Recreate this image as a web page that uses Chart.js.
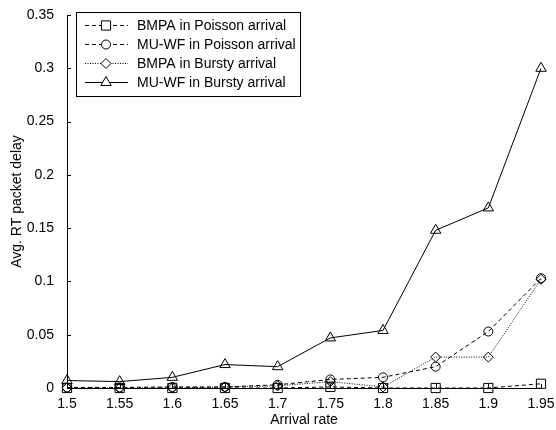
<!DOCTYPE html>
<html lang="en">
<head>
    <meta charset="utf-8" />
    <title>Avg. RT packet delay vs arrival rate</title>
    <script src="https://cdn.jsdelivr.net/npm/chart.js"></script>
    <style>
        html, body { margin: 0; padding: 0; background: #fff; }
        #wrap { width: 556px; height: 430px; position: relative; }
    </style>
</head>
<body>
    <div id="wrap"><canvas id="delayChart"></canvas></div>

    <script>
        // values
        const arrivalRates = [1.5, 1.55, 1.6, 1.65, 1.7, 1.75, 1.8, 1.85, 1.9, 1.95];
        const bmpaPoisson  = [0, 0, 0, 0, 0, 0.001, 0, 0, 0, 0.004];
        const muwfPoisson  = [0.0005, 0.0005, 0.001, 0.001, 0.003, 0.008, 0.010, 0.020, 0.053, 0.103];
        const bmpaBursty   = [0, 0, 0, 0.001, 0.002, 0.006, 0.001, 0.029, 0.029, 0.102];
        const muwfBursty   = [0.007, 0.006, 0.010, 0.022, 0.020, 0.047, 0.054, 0.148, 0.169, 0.300];
        const yTicks = [0, 0.05, 0.1, 0.15, 0.2, 0.25, 0.3, 0.35];

        const FONT = '"Liberation Sans", Arial, sans-serif';

        function series(label, values, style, radius, dash) {
            return {
                label: label,
                data: arrivalRates.map((x, i) => ({ x: x, y: values[i] })),
                borderColor: '#000',
                backgroundColor: 'rgba(0,0,0,0)',
                borderWidth: 1,
                borderDash: dash,
                pointStyle: style,
                pointRadius: radius,
                pointBorderColor: '#000',
                pointBackgroundColor: 'rgba(0,0,0,0)',
                pointBorderWidth: 1,
                tension: 0,
                clip: false
            };
        }

        const datasets = [
            series('BMPA in Poisson arrival', bmpaPoisson, 'rect', 6.5, [4, 3]),
            series('MU-WF in Poisson arrival', muwfPoisson, 'circle', 4.5, [4, 3]),
            series('BMPA in Bursty arrival', bmpaBursty, 'rectRot', 5, [1, 1.5]),
            series('MU-WF in Bursty arrival', muwfBursty, 'triangle', 6, [])
        ];

        // matlab style inward ticks + boxed legend
        const matlabDecor = {
            id: 'matlabDecor',
            afterDraw(chart) {
                const ctx = chart.ctx;
                const xs = chart.scales.x, ys = chart.scales.y;
                const area = chart.chartArea;
                ctx.save();
                ctx.strokeStyle = '#000';
                ctx.lineWidth = 1;
                ctx.setLineDash([]);
                ctx.beginPath();
                arrivalRates.forEach(v => {
                    const px = Math.round(xs.getPixelForValue(v)) + 0.5;
                    ctx.moveTo(px, area.bottom);
                    ctx.lineTo(px, area.bottom - 4);
                });
                yTicks.forEach(v => {
                    const py = Math.round(ys.getPixelForValue(v)) + 0.5;
                    ctx.moveTo(area.left, py);
                    ctx.lineTo(area.left + 4, py);
                });
                ctx.stroke();

                // legend box
                const bx = 76.5, by = 12.5, bw = 224, bh = 84;
                ctx.fillStyle = '#fff';
                ctx.fillRect(bx, by, bw, bh);
                ctx.strokeRect(bx, by, bw, bh);
                ctx.font = '14px ' + FONT;
                ctx.textBaseline = 'middle';
                ctx.textAlign = 'left';
                chart.data.datasets.forEach((ds, i) => {
                    const y = 25 + i * 19 + 0.5;
                    ctx.setLineDash(ds.borderDash);
                    ctx.beginPath();
                    ctx.moveTo(85, y);
                    ctx.lineTo(128, y);
                    ctx.stroke();
                    ctx.setLineDash([]);
                    ctx.fillStyle = '#fff';
                    Chart.helpers.drawPoint(ctx, {
                        pointStyle: ds.pointStyle,
                        radius: ds.pointRadius,
                        rotation: 0,
                        borderWidth: 1
                    }, 106, y);
                    ctx.fillStyle = '#000';
                    ctx.fillText(ds.label, 137, y + 1);
                });
                ctx.restore();
            }
        };

        new Chart(document.getElementById('delayChart'), {
            type: 'line',
            data: { datasets: datasets },
            options: {
                responsive: true,
                maintainAspectRatio: false,
                animation: false,
                layout: { padding: { top: 15, right: 15, left: 0, bottom: 0 } },
                plugins: {
                    legend: { display: false },
                    tooltip: { enabled: false }
                },
                scales: {
                    x: {
                        type: 'linear',
                        min: 1.5,
                        max: 1.95,
                        afterBuildTicks: s => { s.ticks = arrivalRates.map(v => ({ value: v })); },
                        afterFit: s => { s.height = 42; },
                        grid: { display: false },
                        border: { display: true, color: '#000', width: 1 },
                        ticks: {
                            color: '#000',
                            font: { family: FONT, size: 14 },
                            padding: 0,
                            maxRotation: 0,
                            autoSkip: false,
                            callback: v => String(+v.toFixed(2))
                        },
                        title: {
                            display: true,
                            text: 'Arrival rate',
                            color: '#000',
                            font: { family: FONT, size: 14 },
                            padding: { top: 0, bottom: 1 }
                        }
                    },
                    y: {
                        min: 0,
                        max: 0.35,
                        afterBuildTicks: s => { s.ticks = yTicks.map(v => ({ value: v })); },
                        afterFit: s => { s.width = 67; },
                        grid: { display: false },
                        border: { display: true, color: '#000', width: 1 },
                        ticks: {
                            color: '#000',
                            font: { family: FONT, size: 14 },
                            padding: 5,
                            callback: v => String(+v.toFixed(2))
                        },
                        title: {
                            display: true,
                            text: 'Avg. RT packet delay',
                            color: '#000',
                            font: { family: FONT, size: 14 },
                            padding: { top: 9, bottom: 0 }
                        }
                    }
                }
            },
            plugins: [matlabDecor]
        });
    </script>
</body>
</html>
